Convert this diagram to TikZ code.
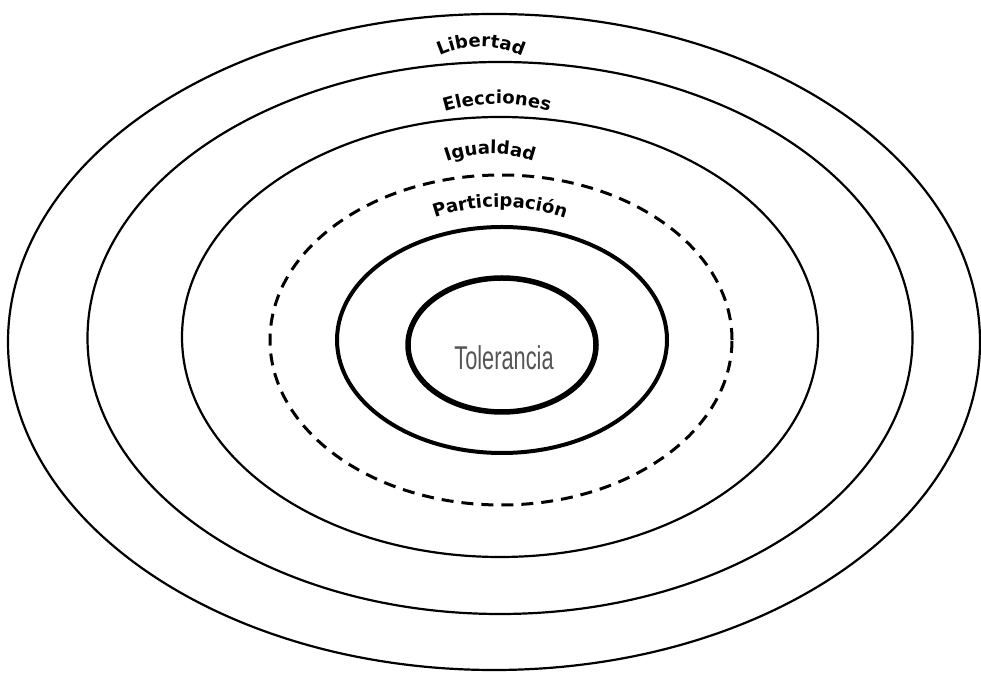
\documentclass[tikz,border=0pt]{standalone}
\usepackage{fontspec}
\usetikzlibrary{shapes.geometric,decorations.text}
\newfontfamily\lblfamily{DejaVu Sans}
\newfontfamily\tolfamily[FakeStretch=0.66]{Liberation Sans}
\newcommand\lblstyle{\lblfamily\bfseries\fontsize{18}{20}\selectfont}
\definecolor{tolgray}{HTML}{555555}
\tikzset{
  ring/.style={ellipse, draw=black, inner sep=0pt, outer sep=0pt, line width=2.2pt},
  thickring/.style={ring, line width=4pt},
  innerring/.style={ring, line width=5.5pt},
  dashring/.style={ring, line width=3pt, dash pattern=on 12pt off 8pt},
  arclabel/.style={decorate, decoration={text along path, text align=center, text={#1}}}
}
\begin{document}
\begin{tikzpicture}[x=1pt,y=1pt]
\useasboundingbox (0,0) rectangle (981,674);
\node[ring, minimum width=972pt, minimum height=656pt] (e1) at (494,332) {};
\node[ring, minimum width=825pt, minimum height=552pt] (e2) at (500,336) {};
\node[ring, minimum width=636pt, minimum height=440pt] (e3) at (500,337) {};
\node[dashring, minimum width=462pt, minimum height=330pt] (e4) at (501,334) {};
\node[thickring, minimum width=330pt, minimum height=226pt] (e5) at (502,334) {};
\node[innerring, minimum width=188pt, minimum height=134pt] (e6) at (502,329) {};
\node[text=tolgray, font=\tolfamily\fontsize{33}{33}\selectfont] (tol) at (504,316) {Tolerancia};
% curved labels
\path[arclabel={|\lblstyle|Libertad}] (481,527) ++(150:100) arc[start angle=150, end angle=30, radius=100];
\path[arclabel={|\lblstyle|Elecciones}] (497,390) ++(140:180) arc[start angle=140, end angle=40, radius=180];
\path[arclabel={|\lblstyle|Igualdad}] (490,390) ++(145:130) arc[start angle=145, end angle=35, radius=130];
\path[arclabel={|\lblstyle|Participación}] (500,267) ++(140:200) arc[start angle=140, end angle=40, radius=200];
\end{tikzpicture}
\end{document}
